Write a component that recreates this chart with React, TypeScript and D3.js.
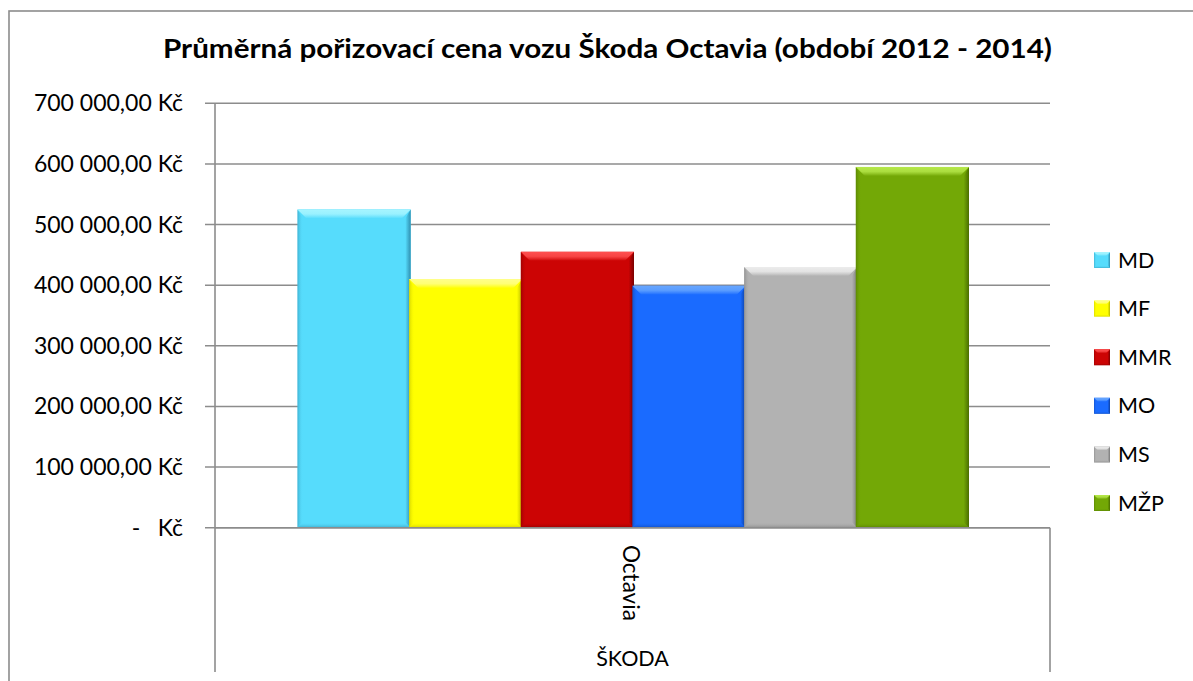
import React from "react";
import * as d3 from "d3";

const title = "Průměrná pořizovací cena vozu Škoda Octavia (období 2012 - 2014)";
const categories = ["Octavia"];
const groupLabel = "ŠKODA";
const seriesNames = ["MD", "MF", "MMR", "MO", "MS", "MŽP"];
const seriesValues = [525000, 410000, 455000, 399000, 430000, 595000];
const seriesColors = ["#56dcfc", "#ffff00", "#cc0404", "#1a6bff", "#b2b2b2", "#73a806"];
const seriesLight = ["#a6f5ff", "#ffff8a", "#ff5050", "#66a6ff", "#ececec", "#b6e84a"];
const seriesDark = ["#2f8fb0", "#b8b800", "#7a0000", "#0d3fa0", "#7a7a7a", "#4a6e00"];
const yTicks = [0, 100000, 200000, 300000, 400000, 500000, 600000, 700000];

const W = 1193;
const H = 681;
const plotLeft = 215;
const plotRight = 1050;
const plotTop = 103.3;
const plotBottom = 527.7;
const FONT = "Lato, 'Open Sans', sans-serif";

const locale = d3.formatLocale({
  decimal: ",",
  thousands: "\u00a0",
  grouping: [3],
  currency: ["", "\u00a0Kč"],
});
const fmt = locale.format("$,.2f");

function Bar({ x, y, w, h, i, b = 9 }: any) {
  const x0 = x, x1 = x + w, y0 = y, y1 = y + h;
  const id = `g${i}_${b}`;
  const s = b * 0.6;
  return (
    <g>
      <defs>
        <linearGradient id={`${id}top`} x1="0" y1="0" x2="0" y2="1">
          <stop offset="0" stopColor={seriesLight[i]} />
          <stop offset="0.5" stopColor={seriesLight[i]} stopOpacity={0.85} />
          <stop offset="1" stopColor={seriesColors[i]} />
        </linearGradient>
        <linearGradient id={`${id}right`} x1="1" y1="0" x2="0" y2="0">
          <stop offset="0" stopColor={seriesDark[i]} />
          <stop offset="1" stopColor={seriesColors[i]} />
        </linearGradient>
        <linearGradient id={`${id}left`} x1="0" y1="0" x2="1" y2="0">
          <stop offset="0" stopColor={seriesDark[i]} stopOpacity={0.55} />
          <stop offset="1" stopColor={seriesColors[i]} stopOpacity={0} />
        </linearGradient>
        <linearGradient id={`${id}bot`} x1="0" y1="1" x2="0" y2="0">
          <stop offset="0" stopColor={seriesDark[i]} stopOpacity={0.6} />
          <stop offset="1" stopColor={seriesColors[i]} stopOpacity={0} />
        </linearGradient>
      </defs>
      <rect x={x0} y={y0} width={w} height={h} fill={seriesColors[i]} />
      <polygon
        points={`${x0},${y0} ${x0 + s},${y0 + b} ${x0 + s},${y1 - s} ${x0},${y1}`}
        fill={`url(#${id}left)`}
      />
      <polygon
        points={`${x0},${y1} ${x0 + s},${y1 - s} ${x1 - s},${y1 - s} ${x1},${y1}`}
        fill={`url(#${id}bot)`}
      />
      <polygon
        points={`${x1},${y0} ${x1},${y1} ${x1 - s},${y1 - s} ${x1 - s},${y0 + b}`}
        fill={`url(#${id}right)`}
      />
      <polygon
        points={`${x0},${y0} ${x1},${y0} ${x1 - b},${y0 + b} ${x0 + b},${y0 + b}`}
        fill={`url(#${id}top)`}
      />
    </g>
  );
}

export default function App() {
  const y = d3.scaleLinear().domain([0, 700000]).range([plotBottom, plotTop]);
  const outer = d3
    .scaleBand<string>()
    .domain(categories)
    .range([plotLeft, plotRight])
    .paddingInner(0)
    .paddingOuter(0.123);
  const groupW = 670;
  const cx = (outer(categories[0]) as number) + outer.bandwidth() / 2;
  const inner = d3
    .scaleBand<string>()
    .domain(seriesNames)
    .range([cx - groupW / 2, cx + groupW / 2])
    .padding(0);

  const legendY0 = 260;
  const legendStep = 48.6;

  return (
    <svg
      width={W}
      height={H}
      style={{ position: "absolute", left: 0, top: 0, background: "#fff" }}
      fontFamily={FONT}
    >
      <rect x={9} y={11} width={1300} height={900} fill="#fff" stroke="#8c8c8c" strokeWidth={1.6} />
      <text
        x={607.5}
        y={58}
        textAnchor="middle"
        fontWeight="bold"
        fontSize={26}
        textLength={889}
        lengthAdjust="spacingAndGlyphs"
        fill="#000"
      >
        {title}
      </text>

      {/* gridlines */}
      {yTicks.map((t) => (
        <line
          key={t}
          x1={plotLeft - 10}
          x2={plotRight}
          y1={y(t)}
          y2={y(t)}
          stroke="#8c8c8c"
          strokeWidth={1.5}
        />
      ))}
      {/* y labels */}
      {yTicks.map((t) =>
        t === 0 ? (
          <g key={t}>
            <text x={136} y={y(t) + 8} fontSize={23} textAnchor="middle" fill="#000">
              -
            </text>
            <text x={183} y={y(t) + 8} fontSize={23} textAnchor="end" fill="#000">
              Kč
            </text>
          </g>
        ) : (
          <text key={t} x={183} y={y(t) + 8} fontSize={23} textAnchor="end" fill="#000">
            {fmt(t)}
          </text>
        )
      )}

      {/* bars */}
      {seriesNames.map((s, i) => {
        const x0 = inner(s) as number;
        const yv = y(seriesValues[i]);
        return (
          <Bar key={s} x={x0} y={yv} w={inner.bandwidth() + 1.5} h={plotBottom - yv} i={i} />
        );
      })}

      {/* axes */}
      <line x1={plotLeft} x2={plotLeft} y1={plotTop} y2={672} stroke="#8c8c8c" strokeWidth={1.6} />
      <line x1={plotLeft} x2={plotRight} y1={plotBottom} y2={plotBottom} stroke="#8c8c8c" strokeWidth={1.6} />
      <line x1={plotRight} x2={plotRight} y1={plotBottom} y2={672} stroke="#8c8c8c" strokeWidth={1.6} />

      {/* category labels */}
      <text
        transform={`translate(${cx - 10},545) rotate(90)`}
        fontSize={22.5}
        textAnchor="start"
        fill="#000"
      >
        {categories[0]}
      </text>
      <text x={cx} y={666} fontSize={21.5} textAnchor="middle" fill="#000">
        {groupLabel}
      </text>

      {/* legend */}
      {seriesNames.map((s, i) => {
        const ly = legendY0 + i * legendStep;
        return (
          <g key={s}>
            <Bar x={1094} y={ly - 8} w={16} h={16} i={i} b={4} />
            <text x={1118} y={ly + 7.5} fontSize={21.5} fill="#000">
              {s}
            </text>
          </g>
        );
      })}
    </svg>
  );
}
